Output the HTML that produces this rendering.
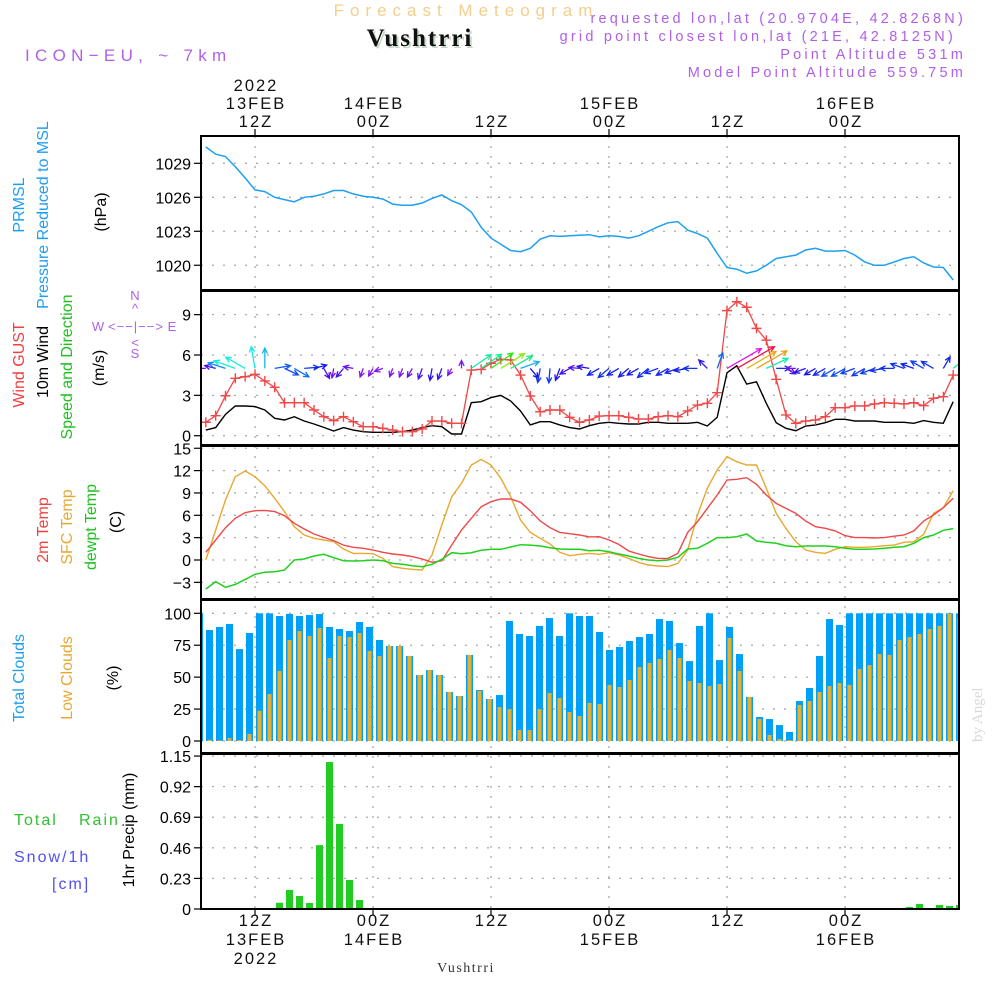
<!DOCTYPE html>
<html><head><meta charset="utf-8"><title>Forecast Meteogram Vushtrri</title>
<style>
html,body{margin:0;padding:0;background:#fff;}
svg{display:block;font-family:"Liberation Sans",sans-serif;}
</style></head>
<body>
<svg id="chart" width="1000" height="1000" viewBox="0 0 1000 1000" xmlns="http://www.w3.org/2000/svg">
<rect width="1000" height="1000" fill="#fff"/>
<text x="466" y="16" text-anchor="middle" font-size="17" letter-spacing="6" fill="#f3cf8c">Forecast Meteogram</text>
<text x="422" y="48" text-anchor="middle" font-family="Liberation Serif,serif" font-weight="bold" font-size="25" fill="#c8d8c8" letter-spacing="2">Vushtrri</text>
<text x="420" y="46" text-anchor="middle" font-family="Liberation Serif,serif" font-weight="bold" font-size="25" fill="#111" letter-spacing="2">Vushtrri</text>
<text x="25" y="61" font-size="17" letter-spacing="5.3" fill="#b060e8">ICON−EU, ~ 7km</text>
<g font-size="14.5" letter-spacing="3.2" fill="#b060e8" text-anchor="end">
<text x="966" y="23">requested lon,lat (20.9704E, 42.8268N)</text>
<text x="956" y="41">grid point closest lon,lat (21E, 42.8125N)</text>
<text x="966" y="59">Point Altitude 531m</text>
<text x="966" y="77">Model Point Altitude 559.75m</text>
</g>
<text transform="translate(982,742) rotate(-90)" font-family="Liberation Serif,serif" font-size="15" fill="#d8d8d8">by Angel</text>
<text x="466" y="972" text-anchor="middle" font-family="Liberation Serif,serif" font-size="14" fill="#333" letter-spacing="1.5">Vushtrri</text>

<g font-size="16">
<text transform="translate(24,205) rotate(-90)" text-anchor="middle" fill="#1e9ef0">PRMSL</text>
<text transform="translate(48,215) rotate(-90)" text-anchor="middle" fill="#1e9ef0">Pressure Reduced to MSL</text>
<text transform="translate(106,212) rotate(-90)" text-anchor="middle" fill="#000">(hPa)</text>
</g>
<g font-size="16">
<text transform="translate(24,365) rotate(-90)" text-anchor="middle" fill="#f04040">Wind GUST</text>
<text transform="translate(48,362) rotate(-90)" text-anchor="middle" fill="#000">10m Wind</text>
<text transform="translate(72,367) rotate(-90)" text-anchor="middle" fill="#20c020">Speed and Direction</text>
<text transform="translate(104,368) rotate(-90)" text-anchor="middle" fill="#000">(m/s)</text>
</g>
<g font-size="13" fill="#b060e8" text-anchor="middle">
<text x="135" y="300">N</text><text x="135" y="313">^</text>
<text x="98" y="331">W</text><text x="136" y="331" letter-spacing="1">&lt;−−|−−&gt;</text><text x="172" y="331">E</text>
<text x="135" y="347">&lt;</text><text x="135" y="358">S</text>
</g>
<g font-size="16">
<text transform="translate(48,530) rotate(-90)" text-anchor="middle" fill="#f04040">2m Temp</text>
<text transform="translate(72,527) rotate(-90)" text-anchor="middle" fill="#e8a830">SFC Temp</text>
<text transform="translate(96,527) rotate(-90)" text-anchor="middle" fill="#20c020">dewpt Temp</text>
<text transform="translate(121,522) rotate(-90)" text-anchor="middle" fill="#000">(C)</text>
</g>
<g font-size="16">
<text transform="translate(24,678) rotate(-90)" text-anchor="middle" fill="#1e9ef0">Total Clouds</text>
<text transform="translate(72,678) rotate(-90)" text-anchor="middle" fill="#e8a830">Low Clouds</text>
<text transform="translate(118,678) rotate(-90)" text-anchor="middle" fill="#000">(%)</text>
</g>
<g font-size="16">
<text transform="translate(134,830) rotate(-90)" text-anchor="middle" fill="#000">1hr Precip (mm)</text>
<text x="14" y="825" fill="#30c030" letter-spacing="2">Total</text>
<text x="79" y="825" fill="#30c030" letter-spacing="2">Rain</text>
<text x="14" y="862" fill="#5050f0" letter-spacing="2">Snow/1h</text>
<text x="52" y="889" fill="#5050f0" letter-spacing="2">[cm]</text>
</g>
<g id="plot"></g>
</svg>
<script>
const hours = [];
for (let h = -5; h <= 71; h++) hours.push(h);
const pressure = [1030.45,1029.8,1029.6,1028.7,1027.7,1026.65,1026.5,1026,1025.8,1025.6,1026,1026.1,1026.3,1026.6,1026.6,1026.3,1026.1,1026,1025.85,1025.4,1025.3,1025.3,1025.5,1025.9,1026.2,1025.7,1025.35,1024.7,1023.35,1022.4,1021.85,1021.3,1021.2,1021.5,1022.3,1022.6,1022.55,1022.6,1022.65,1022.7,1022.5,1022.6,1022.55,1022.4,1022.6,1023,1023.4,1023.75,1023.85,1023.1,1022.8,1022.4,1021.05,1019.8,1019.65,1019.3,1019.5,1020,1020.6,1020.75,1020.9,1021.35,1021.5,1021.25,1021.25,1021.3,1020.9,1020.3,1020,1020,1020.3,1020.6,1020.75,1020.2,1019.85,1019.8,1018.7];
const gust = [1.0,1.49,2.97,4.27,4.39,4.56,4.07,3.6,2.45,2.45,2.45,1.91,1.41,1.12,1.41,1.04,0.67,0.67,0.55,0.42,0.3,0.3,0.5,1.09,1.09,0.92,0.92,4.88,4.93,5.38,5.68,5.63,4.51,2.95,1.78,1.91,1.91,1.37,1.0,1.17,1.46,1.49,1.49,1.37,1.24,1.24,1.41,1.49,1.41,1.84,2.28,2.41,3.2,9.3,9.96,9.55,7.98,7.1,4.19,1.54,0.92,1.09,1.17,1.41,2.08,2.08,2.21,2.21,2.36,2.45,2.41,2.36,2.45,2.23,2.78,2.9,4.51];
const wind10 = [0.42,0.6,1.59,2.21,2.21,2.16,1.91,1.29,1.17,1.41,1.09,0.87,0.62,0.35,0.6,0.42,0.3,0.25,0.25,0.25,0.3,0.42,0.6,0.74,0.67,0.13,0.13,2.45,2.53,2.83,3.0,2.58,1.84,0.8,1.04,1.04,0.8,0.6,0.5,0.74,0.92,1.0,0.92,0.87,0.87,1.0,1.0,0.92,0.92,0.92,1.0,0.72,1.37,4.68,5.2,3.84,4.01,2.41,0.97,0.55,0.37,0.72,0.8,0.97,1.22,1.22,1.09,1.09,1.09,1.0,1.0,1.0,0.92,1.12,1.0,0.92,2.53];
const windDir = [180,165,162,160,150,100,90,10,-25,-30,5,15,-60,-100,-130,170,-110,-120,-160,-110,-110,-120,-110,-100,-110,-120,90,35,35,35,32,30,20,-50,-100,-95,-110,-150,175,170,-150,-140,-150,-140,-150,-140,-160,-150,-160,-170,180,135,70,30,30,30,30,25,0,-30,180,-160,-150,-150,-150,-150,-160,-150,-160,-170,180,160,160,150,150,60,40];
const temp2m = [1.03,2.68,4.34,5.6,6.35,6.62,6.66,6.49,5.95,4.92,4.16,3.49,3.04,2.6,2.0,1.7,1.57,1.34,1.03,0.8,0.67,0.45,0.13,-0.31,-0.09,2.0,4.03,5.6,7.16,7.83,8.19,8.19,7.74,6.62,5.23,4.34,3.71,3.53,3.36,3.1,3.13,2.68,2.1,1.21,0.8,0.45,0.22,0.22,0.89,3.71,5.14,6.93,8.72,10.74,10.83,11.05,10.16,8.72,7.6,6.93,6.26,5.23,4.47,4.25,3.9,3.27,3.0,3.0,2.95,3.0,3.2,3.36,3.9,5.23,6.04,7.02,8.28];
const tempSfc = [0,4.03,8.05,11.18,11.95,11.18,9.97,8.28,6.49,4.47,3.36,2.91,2.68,2.46,1.48,0.89,0.89,0.85,0.22,-0.89,-1.12,-1.25,-1.34,0.67,4.7,8.5,10.3,12.75,13.5,12.75,10.96,8.5,5.37,3.71,2.91,2.15,1.03,0.58,0.76,0.89,0.76,0.98,0.67,0.22,-0.31,-0.67,-0.8,-0.89,-0.45,1.34,6.04,9.62,12.08,13.87,13.2,12.75,12.75,9.62,6.26,4.21,2.46,1.34,1.03,0.89,1.43,1.79,1.7,1.7,1.79,1.92,2.0,2.37,2.46,3.45,6.26,7.02,9.3];
const dewpt = [-3.9,-2.9,-3.67,-3.27,-2.6,-1.92,-1.65,-1.57,-1.34,0,0.13,0.54,0.76,0.31,-0.09,-0.13,-0.09,0,-0.09,-0.45,-0.58,-0.76,-0.9,-0.58,0.09,0.98,0.85,0.98,1.3,1.43,1.43,1.74,2.05,2.0,1.88,1.65,1.48,1.43,1.43,1.25,1.3,1.12,0.8,0.54,0.22,0,-0.09,0,0.36,1.48,1.57,2.24,3.0,3.0,3.13,3.49,2.55,2.37,2.24,1.92,1.79,1.88,1.88,1.88,1.79,1.57,1.43,1.43,1.48,1.57,1.7,1.79,2.24,3.0,3.36,3.98,4.21];
const totalClouds = [100,86.9,89.3,91.6,72,84.6,100,100,97.9,99.5,97.9,98.7,99.5,89.3,87.7,86.1,93.2,89.3,79.1,74.4,74.4,66.6,51.7,55.6,51.7,38.4,35.2,67.4,39.9,32.9,36,94,83.8,82.2,90.1,96.3,82.2,100,97.9,97.9,85.4,71.3,73.6,78.3,81.4,83.8,95.5,94,76.7,62.6,90.1,100,63.4,89.3,68.1,34.5,18.8,17.2,12.5,7.1,31.3,41.5,66.6,95.5,90.9,100,100,100,100,100,100,100,100,100,100,100,100];
const lowClouds = [0,1,0.5,2.3,0.8,5.5,23.7,36.8,54.8,79.1,86.1,82.2,88.5,65,82.2,81.4,84.6,70.5,66.6,74.4,74.4,66.6,51.7,55.6,51.7,38.4,35.2,67.4,39.2,32.9,26.6,25,8.6,8.6,25,37.6,33.7,22.7,19.6,29.8,29,43.9,42.3,47.8,57.9,61.1,64.2,71.3,65,47,45.4,43.1,44.6,80.7,54.8,34.5,17.2,4.7,1.6,0.8,28.2,31.3,38.4,43.1,45.4,43.9,56.4,59.5,68.1,67.4,79.1,81.4,83.8,87.7,90.1,99.5,96.3];
const precip = [0,0,0,0,0,0,0,0,0.047,0.143,0.098,0.045,0.48,1.105,0.64,0.218,0.068,0,0,0,0,0,0,0,0,0,0,0,0,0,0,0,0,0,0,0,0,0,0,0,0,0,0,0,0,0,0,0,0,0,0,0,0,0,0,0,0,0,0,0,0,0,0,0,0,0,0,0,0,0,0,0.015,0.038,0,0.03,0.023,0.03];
const pTicks = [1020,1023,1026,1029];
const wTicks = [0,3,6,9];
const tTicks = [-3,0,3,6,9,12,15];
const cTicks = [0,25,50,75,100];
const rTicks = [0,0.23,0.46,0.69,0.92,1.15];
const timeTicks = [0,12,24,36,48,60];
const topLabels = [["2022","13FEB","12Z"],["","14FEB","00Z"],["","","12Z"],["","15FEB","00Z"],["","","12Z"],["","16FEB","00Z"]];
const bottomLabels = [["12Z","13FEB","2022"],["00Z","14FEB",""],["12Z","",""],["00Z","15FEB",""],["12Z","",""],["00Z","16FEB",""]];

const X0 = 201, X1 = 959;
const xH = h => 255 + h * 118 / 12;
const yP = v => 163.3 + (1029 - v) * 11.33;
const yW = v => 435.7 - v * 13.45;
const yT = v => 560 - v * 7.45;
const yC = v => 741 - v * 1.277;
const yR = v => 909 - v * 133;
const panels = [[136,290],[291,445],[446,599],[600,753],[754,909]];

const NS = "http://www.w3.org/2000/svg";
const plot = document.getElementById("plot");
function mk(tag, attrs, parent) {
  const e = document.createElementNS(NS, tag);
  for (const k in attrs) e.setAttribute(k, attrs[k]);
  (parent || plot).appendChild(e);
  return e;
}
panels.forEach((p, i) => {
  const cp = mk("clipPath", {id: "clip" + i});
  mk("rect", {x: X0, y: p[0], width: X1 - X0, height: p[1] - p[0]}, cp);
});

function hGrid(ticks, fy, labelFmt) {
  ticks.forEach(t => {
    const y = fy(t);
    const g = mk("line", {x1: X0, x2: X1, y1: y, y2: y, stroke: "#aaa", "stroke-width": 1.3, "stroke-dasharray": "2,9"});
    
    
    const tk = mk("line", {x1: X0 - 7, x2: X0, y1: y, y2: y, stroke: "#000", "stroke-width": 1.2});
    
    
    const tx = mk("text", {x: X0 - 10, y: y + 6, "text-anchor": "end", "font-size": 16, fill: "#000"});
    tx.textContent = labelFmt(t);
    
    
  });
}
hGrid(pTicks, yP, t => String(t));
hGrid(wTicks, yW, t => String(t));
hGrid(tTicks, yT, t => String(t).replace("-", "−"));
hGrid(cTicks, yC, t => String(t));
hGrid(rTicks, yR, t => t === 0 ? "0" : t.toFixed(2));

timeTicks.forEach((h, i) => {
  const x = xH(h);
  const v = mk("line", {x1: x, x2: x, y1: 136, y2: 909, stroke: "#aaa", "stroke-width": 1.3, "stroke-dasharray": "2,8"});
  
  
  const t1 = mk("line", {x1: x, x2: x, y1: 129, y2: 136, stroke: "#000", "stroke-width": 1.2});
  
  
  const t2 = mk("line", {x1: x, x2: x, y1: 909, y2: 915, stroke: "#000", "stroke-width": 1.2});
  
  
  topLabels[i].forEach((s, j) => {
    if (!s) return;
    const t = mk("text", {x: x + 1, y: 91 + j * 18, "text-anchor": "middle", "font-size": 16.5, fill: "#111", "letter-spacing": 2});
    t.textContent = s;
    
    
  });
  bottomLabels[i].forEach((s, j) => {
    if (!s) return;
    const t = mk("text", {x: x + 1, y: 926 + j * 19, "text-anchor": "middle", "font-size": 16.5, fill: "#111", "letter-spacing": 2});
    t.textContent = s;
    
    
  });
});

function series(vals, fy, color, pi, name, w) {
  const pts = vals.map((v, i) => xH(hours[i]).toFixed(1) + "," + fy(v).toFixed(1)).join(" ");
  const pl = mk("polyline", {points: pts, fill: "none", stroke: color, "stroke-width": w || 1.4, "clip-path": "url(#clip" + pi + ")"});
  
  
}
series(pressure, yP, "#1ea0f0", 0, "pressure-line", 1.5);
series(wind10, yW, "#000", 1, "wind-10m-line", 1.4);
series(gust, yW, "#f04848", 1, "wind-gust-line", 1.3);
gust.forEach((v, i) => {
  const x = xH(hours[i]), y = yW(v);
  const m = mk("path", {d: `M${x-5},${y}H${x+5}M${x},${y-5}V${y+5}`, stroke: "#f04848", "stroke-width": 1.4, "clip-path": "url(#clip1)"});
  
  
});
const stops = [[0.3,270],[1,232],[2,190],[2.6,150],[3.0,85],[4,35],[4.8,345]];
function hueFor(s) {
  if (s <= stops[0][0]) return stops[0][1];
  for (let i = 1; i < stops.length; i++) {
    if (s <= stops[i][0]) {
      const a = stops[i-1], b = stops[i];
      return a[1] + (b[1] - a[1]) * (s - a[0]) / (b[0] - a[0]);
    }
  }
  return stops[stops.length-1][1];
}
windDir.forEach((d, i) => {
  const sp = wind10[i];
  const L = 7 + 7 * sp;
  const a = d * Math.PI / 180;
  const x0 = xH(hours[i]), y0 = yW(5);
  const x1 = x0 + L * Math.cos(a), y1 = y0 - L * Math.sin(a);
  const hl = 6, ha = 0.45;
  const back = Math.atan2(y0 - y1, x0 - x1);
  const p1x = x1 + hl * Math.cos(back + ha), p1y = y1 + hl * Math.sin(back + ha);
  const p2x = x1 + hl * Math.cos(back - ha), p2y = y1 + hl * Math.sin(back - ha);
  let hue = hueFor(sp); if (hue < 0) hue += 360;
  const col = `hsl(${hue.toFixed(0)},85%,50%)`;
  const ar = mk("path", {d: `M${x0.toFixed(1)},${y0.toFixed(1)}L${x1.toFixed(1)},${y1.toFixed(1)}M${p1x.toFixed(1)},${p1y.toFixed(1)}L${x1.toFixed(1)},${y1.toFixed(1)}L${p2x.toFixed(1)},${p2y.toFixed(1)}`, stroke: col, "stroke-width": 1.3, fill: "none", "clip-path": "url(#clip1)"});
  
  
});
series(tempSfc, yT, "#e8a830", 2, "sfc-temp-line", 1.4);
series(temp2m, yT, "#f04848", 2, "2m-temp-line", 1.4);
series(dewpt, yT, "#20d020", 2, "dewpoint-line", 1.5);

const barX = k => 196 + 10 * k;
totalClouds.forEach((v, k) => {
  const r = mk("rect", {x: barX(k), y: yC(v), width: 7, height: yC(0) - yC(v), fill: "#00a0f8", "clip-path": "url(#clip3)"});
  
  
});
lowClouds.forEach((v, k) => {
  if (v <= 0) return;
  const r = mk("rect", {x: barX(k) + 1.5, y: yC(v), width: 4, height: yC(0) - yC(v), fill: "#e8b030", "clip-path": "url(#clip3)"});
  
  
});
precip.forEach((v, k) => {
  if (v <= 0) return;
  const r = mk("rect", {x: barX(k), y: yR(v), width: 7, height: yR(0) - yR(v), fill: "#22cc22", "clip-path": "url(#clip4)"});
  
  
});

panels.forEach(p => {
  const f = mk("rect", {x: X0, y: p[0], width: X1 - X0, height: p[1] - p[0], fill: "none", stroke: "#000", "stroke-width": 2});
  
  
});
</script>
</body></html>
